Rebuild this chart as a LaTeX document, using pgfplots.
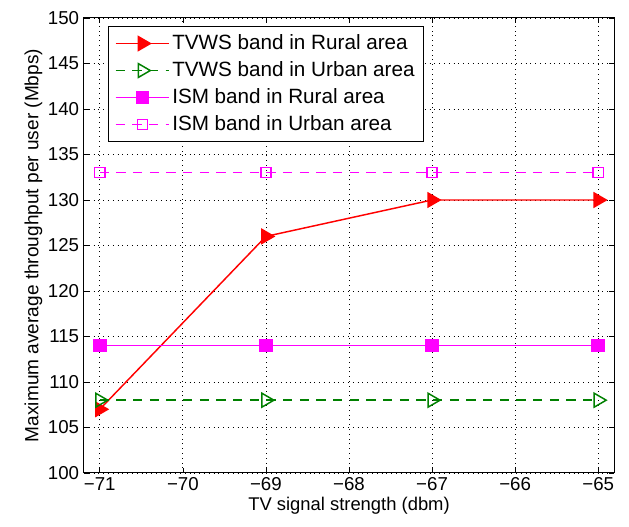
\documentclass[border=0pt]{standalone}
\usepackage{pgfplots}
\pgfplotsset{compat=1.18}
\usepackage{fontspec}
\setmainfont{Liberation Sans}
\definecolor{mgreen}{rgb}{0,0.5,0}
\definecolor{mmag}{rgb}{1,0,1}
\definecolor{mred}{rgb}{1,0,0}
\begin{document}
\fontsize{13.5}{16}\selectfont
\begin{tikzpicture}
\useasboundingbox (-63pt,-40.5pt) rectangle (408.75pt,354.75pt);
\begin{axis}[
  at={(0pt,0pt)}, anchor=south west,
  scale only axis,
  width=397.5pt, height=341.25pt,
  xmin=-71.19, xmax=-64.81,
  ymin=100, ymax=150,
  xtick={-71,-70,-69,-68,-67,-66,-65},
  xticklabels={−71,−70,−69,−68,−67,−66,−65},
  ytick={100,105,...,150},
  /pgf/number format/assume math mode=true,
  tick align=inside,
  xtick pos=both, ytick pos=both,
  major tick length=4pt,
  tick style={black, line width=0.5pt},
  grid=major,
  major grid style={black, dash pattern=on 0.6pt off 3pt, line width=0.6pt},
  axis line style={black, line width=0.75pt},
  xlabel={TV signal strength (dbm)},
  ylabel={Maximum average throughput per user (Mbps)},
  xlabel style={yshift=5pt, font=\fontsize{13.8}{16}\selectfont},
  ylabel style={yshift=-5pt, font=\fontsize{14.3}{16}\selectfont},
  tick label style={font=\fontsize{14}{16}\selectfont},
  xticklabel style={yshift=1pt},
  yticklabel style={xshift=1pt},
  legend style={at={(0.045,0.982)}, anchor=north west, draw=black, line width=0.75pt,
    font=\fontsize{15.5}{18}\selectfont, row sep=3pt, inner xsep=5pt, inner ysep=4pt},
  legend cell align=left,
  legend image code/.code={\draw[line width=1.1pt, mark repeat=2,mark phase=2] plot coordinates {(0cm,0cm) (0.7cm,0cm) (1.4cm,0cm)};},
]
\addplot[mred, line width=1.1pt, mark=triangle*, mark size=6pt, mark options={solid, fill=mred, rotate=-90}]
  coordinates {(-71,107) (-69,126) (-67,130) (-65,130)};
\addlegendentry{TVWS band in Rural area}
\addplot[mgreen, line width=1.1pt, dash pattern=on 7pt off 5.5pt, mark=triangle, mark size=6pt, mark options={solid, rotate=-90}]
  coordinates {(-71,108) (-69,108) (-67,108) (-65,108)};
\addlegendentry{TVWS band in Urban area}
\addplot[mmag, line width=1.1pt, mark=square*, mark size=4.5pt, mark options={solid, fill=mmag}]
  coordinates {(-71,114) (-69,114) (-67,114) (-65,114)};
\addlegendentry{ISM band in Rural area}
\addplot[mmag, line width=1.1pt, dash pattern=on 7pt off 5.5pt, mark=square, mark size=3.8pt, mark options={solid}]
  coordinates {(-71,133) (-69,133) (-67,133) (-65,133)};
\addlegendentry{ISM band in Urban area}
\end{axis}
\end{tikzpicture}
\end{document}
